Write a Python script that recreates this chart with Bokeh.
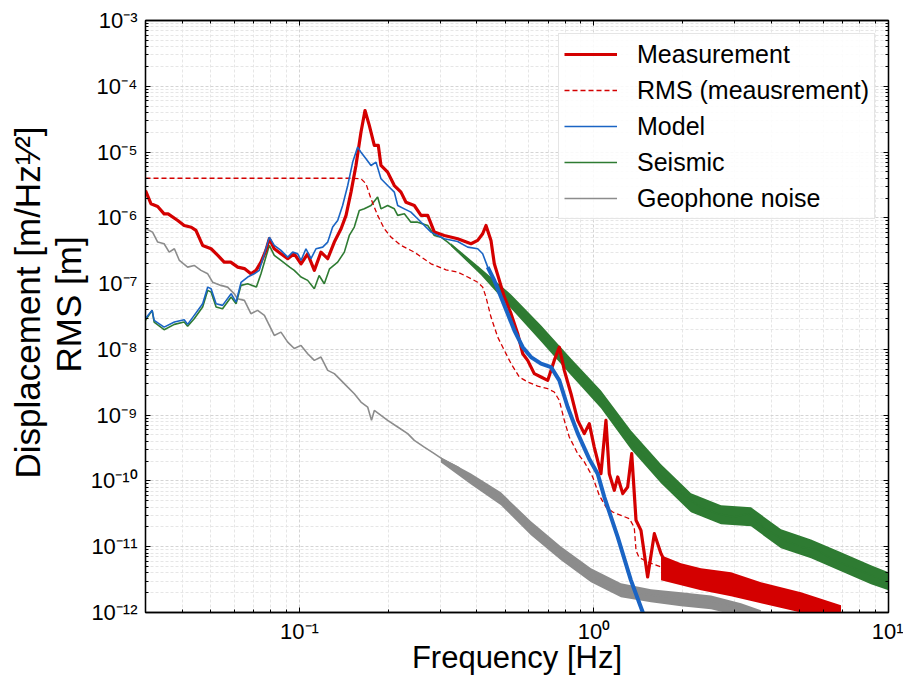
from bokeh.plotting import figure
from bokeh.models import (LogAxis, FixedTicker, CustomJSTickFormatter, Legend,
                          LegendItem, Title)
from bokeh.embed import file_html
from bokeh.resources import INLINE

FONT = "Liberation Sans"

# ---------------- data ----------------
MEAS_F = [0.0300, 0.0313, 0.0330, 0.0347, 0.0358, 0.0386, 0.0406, 0.0429, 0.0445, 0.0469,
          0.0501, 0.0528, 0.0555, 0.0584, 0.0617, 0.0650, 0.0684, 0.0712, 0.0740, 0.0769,
          0.0790, 0.0821, 0.0865, 0.0912, 0.0960, 0.1012, 0.1066, 0.1123, 0.1183, 0.1247,
          0.1313, 0.1384, 0.1439, 0.1496, 0.1555, 0.1617, 0.1669, 0.1726, 0.1795, 0.1852,
          0.1891, 0.1992, 0.2099, 0.2211, 0.2299, 0.2454, 0.2586, 0.2725, 0.2870, 0.3102,
          0.3444, 0.3823, 0.4028, 0.4188, 0.4298, 0.4469, 0.4587, 0.4771, 0.4961, 0.5228,
          0.5508, 0.5728, 0.5955, 0.6269, 0.6607, 0.6965, 0.7330, 0.7625, 0.7929, 0.8354,
          0.8805, 0.9270, 0.9638, 1.002, 1.056, 1.098, 1.127, 1.172, 1.204, 1.252,
          1.301, 1.343, 1.389, 1.444, 1.521, 1.603, 1.689, 1.779, 1.975, 2.191,
          2.308, 2.844, 2.995, 3.889, 5.046, 6.546, 7.17]
MEAS_Y = [2.6e-6, 1.64e-6, 1.49e-6, 1.15e-6, 1.15e-6, 9.1e-7, 7.65e-7, 7.2e-7, 6.44e-7, 3.81e-7,
          3.39e-7, 2.69e-7, 2.12e-7, 2.12e-7, 1.78e-7, 1.69e-7, 1.41e-7, 1.59e-7, 2.12e-7, 3.2e-7,
          4.81e-7, 3.39e-7, 2.84e-7, 2.39e-7, 2.84e-7, 2.0e-7, 2.84e-7, 1.59e-7, 3.01e-7, 2.39e-7,
          4.28e-7, 6.83e-7, 1.09e-6, 2.46e-6, 6.25e-6, 2.0e-5, 4.28e-5, 2.54e-5, 1.26e-5, 1.26e-5,
          6.25e-6, 4.95e-6, 3.1e-6, 2.46e-6, 1.73e-6, 1.54e-6, 1.09e-6, 1.09e-6, 6.07e-7, 5.4e-7,
          4.81e-7, 4.04e-7, 4.54e-7, 5.73e-7, 7.65e-7, 4.54e-7, 2.0e-7, 1.12e-7, 6.24e-8, 3.49e-8,
          1.73e-8, 8.6e-9, 6.8e-9, 4.28e-9, 3.8e-9, 3.38e-9, 6.8e-9, 1.08e-8, 4.8e-9, 2.12e-9,
          8.34e-10, 5.24e-10, 7.43e-10, 3.27e-10, 1.29e-10, 8.34e-10, 1.29e-10, 7.2e-11, 1.15e-10, 6.41e-11,
          8.07e-11, 2.6e-10, 2.52e-11, 1.77e-11, 3.47e-12, 1.58e-11, 7.85e-12, 4.92e-12, 4.38e-12, 3.47e-12,
          3.47e-12, 3.9e-12, 2.75e-12, 1.94e-12, 1.44e-12, 1.08e-12, 8.7e-13]
MEAS_BAND_F = [1.689, 1.975, 2.308, 2.919, 3.690, 5.046, 6.90]
MEAS_BAND_HI = [7.4e-12, 5.6e-12, 4.7e-12, 4.08e-12, 2.88e-12, 2.03e-12, 1.29e-12]
MEAS_BAND_LO = [3.08e-12, 2.59e-12, 2.17e-12, 1.76e-12, 1.38e-12, 1.0e-12, 9.4e-13]

RMS_F = [0.0300, 0.1496, 0.1617, 0.1682, 0.1749, 0.1842, 0.1941, 0.2045, 0.2211, 0.2454,
         0.2796, 0.3144, 0.3444, 0.3725, 0.4028, 0.4188, 0.4298, 0.4469, 0.4710, 0.4961,
         0.5228, 0.5576, 0.5955, 0.6439, 0.6965, 0.7330, 0.7625, 0.7929, 0.8243, 0.8805,
         0.9270, 0.990, 1.042, 1.098, 1.157, 1.235, 1.318, 1.370, 1.389, 1.421,
         1.521, 1.689, 2.308, 3.157, 4.315, 6.90, 7.46]
RMS_Y = [4.0e-6, 4.0e-6, 3.93e-6, 3.3e-6, 1.95e-6, 1.09e-6, 6.83e-7, 5.09e-7, 3.81e-7, 3.01e-7,
         2.0e-7, 1.62e-7, 1.5e-7, 1.26e-7, 1.05e-7, 8.85e-8, 6.24e-8, 3.1e-8, 1.54e-8, 9.66e-9,
         6.07e-9, 3.8e-9, 3.19e-9, 2.77e-9, 2.53e-9, 2.25e-9, 1.68e-9, 8.34e-10, 4.65e-10, 2.6e-10,
         1.95e-10, 1.15e-10, 6.04e-11, 4.01e-11, 3.37e-11, 3.0e-11, 2.67e-11, 1.97e-11, 8.8e-12, 6.9e-12,
         5.86e-12, 4.92e-12, 3.08e-12, 2.17e-12, 1.64e-12, 1.0e-12, 9.3e-13]

MODEL_F = [0.0300, 0.0316, 0.0321, 0.0347, 0.0376, 0.0406, 0.0417, 0.0439, 0.0469, 0.0488,
           0.0501, 0.0521, 0.0548, 0.0586, 0.0609, 0.0633, 0.0667, 0.0702, 0.0730, 0.0760,
           0.0790, 0.0821, 0.0865, 0.0912, 0.0948, 0.0986, 0.1012, 0.1052, 0.1094, 0.1138,
           0.1199, 0.1247, 0.1296, 0.1348, 0.1401, 0.1458, 0.1516, 0.1576, 0.1617, 0.1682,
           0.1749, 0.1819, 0.1891, 0.1992, 0.2099, 0.2155, 0.2270, 0.2390, 0.2519, 0.2796,
           0.3102, 0.3444, 0.3725, 0.4028, 0.4188, 0.4356, 0.4587, 0.4832, 0.5093, 0.5363,
           0.5728, 0.6110, 0.6607, 0.7145, 0.7625, 0.8140, 0.8805, 0.9616, 1.029, 1.084,
           1.204, 1.335, 1.463, 1.478]
MODEL_Y = [2.96e-8, 3.92e-8, 2.76e-8, 2.18e-8, 2.6e-8, 2.83e-8, 2.4e-8, 3.29e-8, 4.94e-8, 8.85e-8,
           8.35e-8, 4.94e-8, 4.67e-8, 7.03e-8, 5.24e-8, 1.04e-7, 1.26e-7, 1.41e-7, 1.59e-7, 2.84e-7,
           5.09e-7, 3.81e-7, 3.2e-7, 2.53e-7, 3.01e-7, 2.84e-7, 2.25e-7, 3.39e-7, 2.39e-7, 3.39e-7,
           3.59e-7, 4.28e-7, 7.23e-7, 9.12e-7, 1.54e-6, 3.1e-6, 7.03e-6, 1.19e-5, 9.96e-6, 7.9e-6,
           6.25e-6, 7.03e-6, 3.93e-6, 3.1e-6, 2.46e-6, 1.54e-6, 1.37e-6, 1.22e-6, 9.68e-7, 6.07e-7,
           4.81e-7, 4.37e-7, 3.59e-7, 3.39e-7, 2.84e-7, 1.78e-7, 1.12e-7, 6.24e-8, 3.49e-8, 1.95e-8,
           1.08e-8, 7.64e-9, 6.07e-9, 5.38e-9, 3.38e-9, 1.33e-9, 5.29e-10, 2.2e-10, 1.29e-10, 5.69e-11,
           1.4e-11, 3.08e-12, 1.02e-12, 8.5e-13]

SEIS_F = [0.0300, 0.0316, 0.0321, 0.0347, 0.0376, 0.0406, 0.0417, 0.0439, 0.0469, 0.0488,
          0.0501, 0.0521, 0.0548, 0.0586, 0.0609, 0.0633, 0.0667, 0.0714, 0.0740, 0.0769,
          0.0790, 0.0821, 0.0865, 0.0926, 0.0960, 0.1012, 0.1066, 0.1123, 0.1166, 0.1214,
          0.1265, 0.1348, 0.1420, 0.1476, 0.1535, 0.1596, 0.1660, 0.1749, 0.1842, 0.1891,
          0.1992, 0.2099, 0.2155, 0.2270, 0.2390, 0.2519, 0.2725, 0.2870, 0.3022, 0.3186,
          0.3488, 0.3725, 0.4028, 0.4356, 0.4710, 0.5093, 0.5508, 0.5955, 0.6439, 0.6965,
          0.7530, 0.8140, 0.8805, 0.9520, 1.029, 1.113, 1.235, 1.370, 1.521, 1.689,
          1.873, 2.080, 2.308, 2.627, 2.995, 3.325, 3.889, 4.426, 5.046, 5.748,
          6.546, 7.456, 8.494, 9.675, 10.0]
SEIS_Y = [2.76e-8, 3.92e-8, 2.6e-8, 1.99e-8, 2.4e-8, 2.6e-8, 2.24e-8, 2.93e-8, 4.4e-8, 7.89e-8,
          7.43e-8, 4.4e-8, 4.16e-8, 6.24e-8, 4.94e-8, 9.4e-8, 9.96e-8, 8.85e-8, 1.41e-7, 2.53e-7,
          3.81e-7, 2.69e-7, 2.25e-7, 1.78e-7, 1.59e-7, 1.26e-7, 1.12e-7, 8.35e-8, 1.33e-7, 9.96e-8,
          1.68e-7, 2.12e-7, 3.01e-7, 5.4e-7, 7.23e-7, 1.29e-6, 1.37e-6, 1.54e-6, 2.07e-6, 1.37e-6,
          1.54e-6, 1.37e-6, 1.09e-6, 1.15e-6, 8.6e-7, 8.6e-7, 7.65e-7, 5.4e-7, 5.09e-7, 4.28e-7,
          3.01e-7, 2.25e-7, 1.78e-7, 1.12e-7, 8.85e-8, 6.24e-8, 3.92e-8, 2.76e-8, 1.95e-8, 1.37e-8,
          9.66e-9, 6.07e-9, 4.28e-9, 3.01e-9, 2.12e-9, 1.41e-9, 6.6e-10, 3.47e-10, 2.06e-10, 1.29e-10,
          8.07e-11, 5.45e-11, 4.01e-11, 3.18e-11, 2.82e-11, 3.18e-11, 1.77e-11, 1.25e-11, 9.9e-12, 8.8e-12,
          6.21e-12, 4.92e-12, 3.9e-12, 3.08e-12, 2.95e-12]
SEIS_BAND_F = [0.3269, 0.4133, 0.5228, 0.6607, 0.8354, 1.056, 1.335, 1.689, 2.135, 2.700,
               3.413, 4.315, 5.456, 6.899, 8.722, 10.0]
SEIS_BAND_HI = [4.1e-7, 1.7e-7, 6.86e-8, 2.32e-8, 7.3e-9, 2.38e-9, 5.87e-10, 1.79e-10, 6.49e-11, 4.26e-11,
                3.97e-11, 1.84e-11, 1.29e-11, 8.22e-12, 5.21e-12, 4.08e-12]
SEIS_BAND_LO = [3.7e-7, 1.35e-7, 4.2e-8, 1.32e-8, 4.03e-9, 1.27e-9, 3.02e-10, 9.2e-11, 3.33e-11, 2.19e-11,
                2.04e-11, 9.46e-12, 6.67e-12, 4.23e-12, 2.69e-12, 2.17e-12]

GEO_F = [0.0300, 0.0317, 0.0330, 0.0347, 0.0361, 0.0376, 0.0391, 0.0417, 0.0439, 0.0463,
         0.0488, 0.0507, 0.0541, 0.0570, 0.0601, 0.0616, 0.0650, 0.0684, 0.0721, 0.0760,
         0.0790, 0.0821, 0.0865, 0.0912, 0.0960, 0.1012, 0.1066, 0.1123, 0.1183, 0.1247,
         0.1313, 0.1384, 0.1458, 0.1535, 0.1617, 0.1704, 0.1756, 0.1795, 0.1891, 0.1992,
         0.2155, 0.2330, 0.2454, 0.2653, 0.2870, 0.3102, 0.3444, 0.3923, 0.4469, 0.4832,
         0.5651, 0.6439, 0.7330, 0.8354, 0.9520, 1.084, 1.235, 1.407, 1.603, 1.826,
         2.080, 2.308, 2.995, 3.413, 3.690]
GEO_Y = [6.9e-7, 6.07e-7, 4.28e-7, 4.04e-7, 3.01e-7, 3.39e-7, 2.25e-7, 1.78e-7, 1.89e-7, 1.59e-7,
         1.41e-7, 1.05e-7, 9.4e-8, 8.85e-8, 6.97e-8, 5.89e-8, 5.56e-8, 3.49e-8, 3.92e-8, 3.29e-8,
         2.32e-8, 1.63e-8, 1.83e-8, 1.29e-8, 1.03e-8, 1.15e-8, 8.6e-9, 6.8e-9, 7.64e-9, 4.8e-9,
         4.28e-9, 3.38e-9, 2.67e-9, 2.12e-9, 1.58e-9, 1.33e-9, 8.34e-10, 1.18e-9, 9.93e-10, 8.34e-10,
         6.6e-10, 5.24e-10, 4.14e-10, 3.27e-10, 2.6e-10, 2.06e-10, 1.63e-10, 1.02e-10, 7.2e-11, 5.45e-11,
         2.52e-11, 1.6e-11, 9.9e-12, 6.21e-12, 3.9e-12, 2.75e-12, 2.17e-12, 1.94e-12, 1.82e-12, 1.72e-12,
         1.53e-12, 1.63e-12, 1.22e-12, 1.02e-12, 8.7e-13]
GEO_BAND_F = [0.3022, 0.3823, 0.4832, 0.6110, 0.7726, 0.9768, 1.235, 1.561, 1.975, 2.497, 3.157, 3.690]
GEO_BAND_HI = [2.3e-10, 1.3e-10, 6.71e-11, 2.43e-11, 1.01e-11, 4.7e-12, 2.78e-12, 2.25e-12, 2.03e-12,
               1.82e-12, 1.38e-12, 1.08e-12]
GEO_BAND_LO = [1.9e-10, 8.8e-11, 4.26e-11, 1.49e-11, 6.21e-12, 2.88e-12, 1.70e-12, 1.43e-12, 1.24e-12,
               1.12e-12, 8.7e-13, 7.6e-13]

SERIES_NAMES = ["Measurement", "RMS (meausrement)", "Model", "Seismic", "Geophone noise"]
X_TICKS = [0.1, 1.0, 10.0]
X_TICK_LABELS = ["10\u207b\u00b9", "10\u2070", "10\u00b9"]
Y_TICKS = [1e-12, 1e-11, 1e-10, 1e-9, 1e-8, 1e-7, 1e-6, 1e-5, 1e-4, 1e-3]
Y_TICK_LABELS = ["10\u207b\u00b9\u00b2", "10\u207b\u00b9\u00b9", "10\u207b\u00b9\u2070", "10\u207b\u2079",
                 "10\u207b\u2078", "10\u207b\u2077", "10\u207b\u2076", "10\u207b\u2075",
                 "10\u207b\u2074", "10\u207b\u00b3"]

RED = "#d40000"
BLUE = "#1a64c4"
GREEN = "#2e7b32"
GRAY = "#8c8c8c"

# ---------------- figure ----------------
x_minor = [m * 10.0 ** e for e in range(-2, 1) for m in range(2, 10)]
y_minor = [m * 10.0 ** e for e in range(-12, -3) for m in range(2, 10)]
xticker = FixedTicker(ticks=X_TICKS, minor_ticks=x_minor)
yticker = FixedTicker(ticks=Y_TICKS, minor_ticks=y_minor)

fmt_code = """
const i = tv.findIndex(t => Math.abs(Math.log10(t) - Math.log10(tick)) < 1e-6);
return i >= 0 ? tl[i] : "";
"""
xfmt = CustomJSTickFormatter(args=dict(tv=X_TICKS, tl=X_TICK_LABELS), code=fmt_code)
yfmt = CustomJSTickFormatter(args=dict(tv=Y_TICKS, tl=Y_TICK_LABELS), code=fmt_code)
blank = CustomJSTickFormatter(code="return '';")

p = figure(x_axis_type="log", y_axis_type="log", x_range=(0.03, 10), y_range=(1e-12, 1e-3),
           frame_width=743, frame_height=592, output_backend="svg", toolbar_location=None,
           min_border_left=145, min_border_right=15, min_border_top=20, min_border_bottom=0,
           background_fill_color="white", border_fill_color="white")
p.outline_line_color = "black"
p.outline_line_width = 1.3

for ax, tk, fm in ((p.xaxis[0], xticker, xfmt), (p.yaxis[0], yticker, yfmt)):
    ax.ticker = tk
    ax.formatter = fm
    ax.major_tick_in = 5
    ax.major_tick_out = 0
    ax.minor_tick_in = 3
    ax.minor_tick_out = 0
    ax.axis_line_color = "black"
    ax.axis_line_width = 1.3
    ax.major_tick_line_color = "black"
    ax.minor_tick_line_color = "black"
    ax.major_label_text_font = FONT
    ax.major_label_text_font_size = "22px"
    ax.major_label_text_color = "black"
    ax.axis_label_text_font = FONT
    ax.axis_label_text_font_style = "normal"
    ax.axis_label_text_color = "black"

p.xaxis.axis_label = "Frequency [Hz]"
p.xaxis.axis_label_text_font_size = "31px"
p.xaxis.major_label_standoff = 6
p.xaxis.axis_label_standoff = -7
p.yaxis.major_label_standoff = 8

for loc, tk in (("above", xticker), ("right", yticker)):
    ax = LogAxis(ticker=tk, formatter=blank, major_tick_in=5, major_tick_out=0,
                 minor_tick_in=3, minor_tick_out=0, axis_line_color="black",
                 axis_line_width=1.3, major_label_standoff=0,
                 major_label_text_font_size="1px")
    p.add_layout(ax, loc)

# two-line y label: nearer line first, then the outer line
p.add_layout(Title(text="RMS [m]", align="left", offset=240,
                   text_font=FONT, text_font_size="35px", text_font_style="normal",
                   text_color="black", standoff=0), "left")
p.add_layout(Title(text="Displacement [m/Hz\u00b9\u2044\u00b2]", align="left", offset=134,
                   text_font=FONT, text_font_size="35px", text_font_style="normal",
                   text_color="black", standoff=0), "left")

for g in (p.xgrid[0], p.ygrid[0]):
    g.grid_line_color = "#d4d4d4"
    g.grid_line_dash = "3 2"
    g.grid_line_width = 1
    g.minor_grid_line_color = "#e6e6e6"
    g.minor_grid_line_dash = "3 2"
    g.minor_grid_line_width = 1
p.xgrid[0].ticker = xticker
p.ygrid[0].ticker = yticker

# ---------------- series ----------------
p.varea(x=GEO_BAND_F, y1=GEO_BAND_LO, y2=GEO_BAND_HI, fill_color=GRAY)
r_geo = p.line(GEO_F, GEO_Y, line_color=GRAY, line_width=1.6)
p.varea(x=SEIS_BAND_F, y1=SEIS_BAND_LO, y2=SEIS_BAND_HI, fill_color=GREEN)
r_seis = p.line(SEIS_F, SEIS_Y, line_color=GREEN, line_width=1.6)
r_meas = p.line(MEAS_F, MEAS_Y, line_color=RED, line_width=3.2, line_join="round")
p.varea(x=MEAS_BAND_F, y1=MEAS_BAND_LO, y2=MEAS_BAND_HI, fill_color=RED)
r_rms = p.line(RMS_F, RMS_Y, line_color=RED, line_width=1.3, line_dash="5 3")
r_model = p.line(MODEL_F, MODEL_Y, line_color=BLUE, line_width=1.6)
p.line(MODEL_F[55:], MODEL_Y[55:], line_color=BLUE, line_width=4)

legend = Legend(items=[LegendItem(label=SERIES_NAMES[0], renderers=[r_meas]),
                       LegendItem(label=SERIES_NAMES[1], renderers=[r_rms]),
                       LegendItem(label=SERIES_NAMES[2], renderers=[r_model]),
                       LegendItem(label=SERIES_NAMES[3], renderers=[r_seis]),
                       LegendItem(label=SERIES_NAMES[4], renderers=[r_geo])],
                location="top_right", label_text_font=FONT, label_text_font_size="25px",
                label_text_color="black",
                glyph_width=53, glyph_height=30, label_height=30, label_standoff=20,
                spacing=6, padding=5, margin=13, border_line_color="#cccccc",
                border_line_width=1.5, background_fill_alpha=0.85)
p.add_layout(legend, "center")

open("out.html", "w").write(file_html(p, INLINE))
